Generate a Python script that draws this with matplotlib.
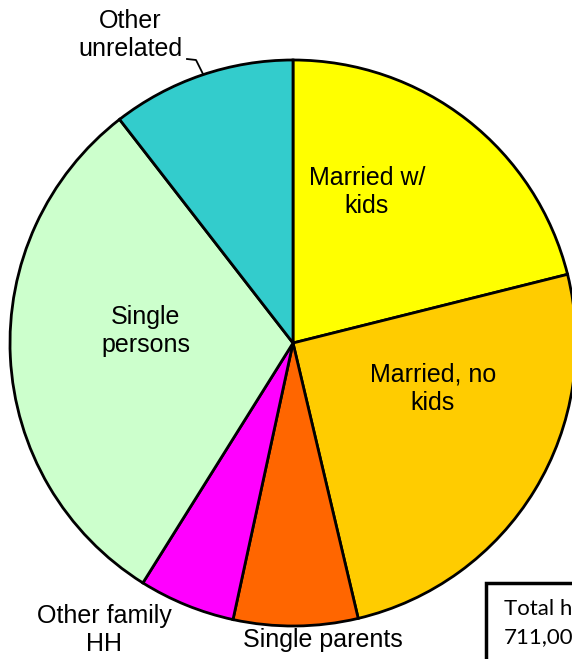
import matplotlib
matplotlib.use("Agg")
import matplotlib.pyplot as plt
from matplotlib.patches import Rectangle

categories = ["Married w/\nkids", "Married, no\nkids", "Single parents",
              "Other family\nHH", "Single\npersons", "Other\nunrelated"]
shares = [21.1, 25.2, 7.1, 5.5, 30.6, 10.5]
colors = ["#FFFF00", "#FFCC00", "#FF6600", "#FF00FF", "#CCFFCC", "#33CCCC"]
total_text = "Total households\n711,000"

W, H = 572, 659
fig = plt.figure(figsize=(W / 100, H / 100), dpi=100)
ax = fig.add_axes([0, 0, 1, 1])
plt.rcParams['font.family'] = ['Liberation Sans', 'DejaVu Sans']

def py(y):
    return H - y

cx, cy, r = 293, py(343), 283
ax.pie(shares, colors=colors, startangle=90, counterclock=False,
       center=(cx, cy), radius=r,
       wedgeprops=dict(edgecolor="black", linewidth=2))
ax.set_xlim(0, W)
ax.set_ylim(0, H)
ax.set_aspect("equal")
ax.axis("off")

fs = 18
label_pos = [(367, 192), (433, 389), (323, 640), (104, 630), (146, 331), (130, 35)]
for lab, (x, y) in zip(categories, label_pos):
    ax.text(x, py(y), lab, ha="center", va="center", fontsize=fs,
            linespacing=1.25, family=['Liberation Sans', 'DejaVu Sans'])

# leader line for "Other unrelated"
ax.plot([187, 196, 203], [py(59), py(60), py(74)], color="black", lw=1.3)

# total box (clipped at the edge)
ax.add_patch(Rectangle((486, py(700)), 200, 700 - 583, facecolor="white",
                       edgecolor="black", lw=2.5, clip_on=True))
ax.text(504, py(623), total_text, ha="left", va="center", fontsize=16,
        linespacing=1.45, family=['Lato', 'DejaVu Sans'])

fig.savefig("out.png", dpi=100)
